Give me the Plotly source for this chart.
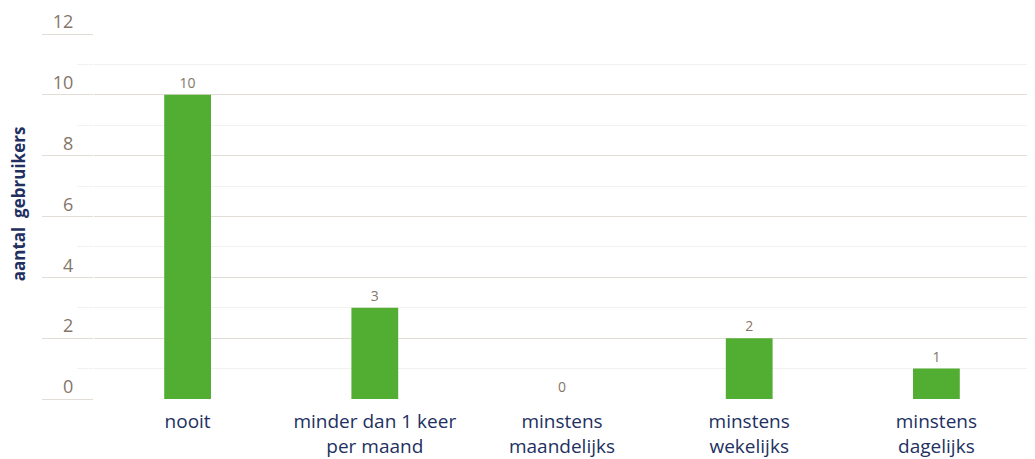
import plotly.graph_objects as go

categories = ["nooit", "minder dan 1 keer<br>per maand", "minstens<br>maandelijks",
              "minstens<br>wekelijks", "minstens<br>dagelijks"]
values = [10, 3, 0, 2, 1]
y_tickvals = [0, 2, 4, 6, 8, 10, 12]
y_title = "aantal  gebruikers"

GREEN = "#52ae32"
NAVY = "#23305f"
TICKGRAY = "#857668"
MAJOR = "#e3ddd7"
MINOR = "#f3f1ee"
FONT = "Open Sans, Lato, sans-serif"

fig = go.Figure(go.Bar(
    x=categories, y=values, marker_color=GREEN, width=0.25,
    marker_line_width=0,
    text=[str(v) for v in values], textposition="outside",
    textfont=dict(size=14, color=TICKGRAY, family=FONT),
    cliponaxis=False,
))

fig.update_layout(
    width=1027, height=451,
    margin=dict(l=86, r=5, t=26, b=60, autoexpand=False),
    plot_bgcolor="white", paper_bgcolor="white",
    showlegend=False,
    font=dict(family=FONT),
    annotations=[dict(
        text="<b>" + y_title + "</b>", textangle=-90,
        xref="paper", yref="paper", x=-0.081, y=0.534,
        xanchor="center", yanchor="middle", showarrow=False,
        font=dict(size=17, color=NAVY, family=FONT),
    )],
)
fig.update_xaxes(
    showgrid=False, showline=False, zeroline=False, ticks="",
    automargin=False,
    tickfont=dict(size=19, color=NAVY, family=FONT),
    ticklabelstandoff=9,
)
fig.update_yaxes(
    range=[0, 12], tickvals=y_tickvals,
    automargin=False,
    showgrid=True, gridcolor=MAJOR, gridwidth=1.3,
    zeroline=False, showline=False,
    ticks="outside", ticklen=51, tickcolor=MAJOR, tickwidth=1.3,
    tickfont=dict(size=18, color=TICKGRAY, family=FONT),
    ticklabelstandoff=-35, ticklabelshift=-12,
    minor=dict(dtick=1, showgrid=True, gridcolor=MINOR, gridwidth=1,
               ticks="outside", ticklen=16, tickcolor=MINOR, tickwidth=1),
)

fig.write_html("out.html")
